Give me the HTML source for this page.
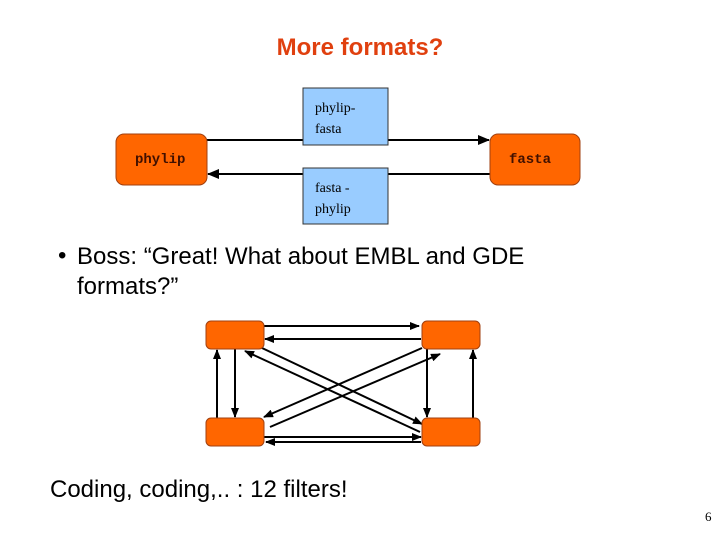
<!DOCTYPE html>
<html><head><meta charset="utf-8"><style>
body{margin:0;width:720px;height:540px;background:#fff;position:relative;overflow:hidden;font-family:"Liberation Sans",sans-serif}
.t{position:absolute;white-space:nowrap}
</style></head><body>
<div class="t" style="left:0;width:720px;text-align:center;top:34px;font-size:24px;font-weight:bold;color:#e0400f">More formats?</div>
<svg width="720" height="540" style="position:absolute;left:0;top:0">
<defs><marker id="a" markerWidth="10" markerHeight="8" refX="9" refY="4" orient="auto" markerUnits="userSpaceOnUse"><path d="M0,0L10,4L0,8z" fill="#000"/></marker>
<marker id="b" markerWidth="12" markerHeight="10" refX="11" refY="5" orient="auto" markerUnits="userSpaceOnUse"><path d="M0,0L12,5L0,10z" fill="#000"/></marker></defs>
<g stroke="#000" stroke-width="2" fill="none">
<line x1="207" y1="140" x2="489" y2="140" marker-end="url(#b)"/>
<line x1="490" y1="174" x2="208" y2="174" marker-end="url(#b)"/>
</g>
<rect x="116" y="134" width="91" height="51" rx="8" fill="#ff6600" stroke="#a04010"/>
<rect x="490" y="134" width="90" height="51" rx="8" fill="#ff6600" stroke="#a04010"/>
<rect x="303" y="88" width="85" height="57" fill="#99ccff" stroke="#333"/>
<rect x="303" y="168" width="85" height="56" fill="#99ccff" stroke="#333"/>
<g font-family="Liberation Mono,monospace" font-weight="bold" font-size="14" fill="#401000">
<text x="135" y="163">phylip</text><text x="509" y="163">fasta</text></g>
<g font-family="Liberation Serif,serif" font-size="14" fill="#000">
<text x="315" y="112">phylip-</text><text x="315" y="133">fasta</text>
<text x="315" y="192">fasta -</text><text x="315" y="213">phylip</text></g>
<g stroke="#000" stroke-width="2" fill="none">
<line x1="264" y1="326" x2="419" y2="326" marker-end="url(#a)"/>
<line x1="421" y1="339" x2="265" y2="339" marker-end="url(#a)"/>
<line x1="264" y1="437" x2="421" y2="437" marker-end="url(#a)"/>
<line x1="421" y1="442" x2="266" y2="442" marker-end="url(#a)"/>
<line x1="217" y1="418" x2="217" y2="350" marker-end="url(#a)"/>
<line x1="235" y1="349" x2="235" y2="417" marker-end="url(#a)"/>
<line x1="427" y1="349" x2="427" y2="417" marker-end="url(#a)"/>
<line x1="473" y1="418" x2="473" y2="350" marker-end="url(#a)"/>
<line x1="262" y1="348" x2="422" y2="424" marker-end="url(#a)"/>
<line x1="420" y1="432" x2="245" y2="351" marker-end="url(#a)"/>
<line x1="422" y1="348" x2="264" y2="417" marker-end="url(#a)"/>
<line x1="270" y1="427" x2="440" y2="354" marker-end="url(#a)"/>
</g>
<g fill="#ff6600" stroke="#a04010">
<rect x="206" y="321" width="58" height="28" rx="5"/><rect x="422" y="321" width="58" height="28" rx="5"/>
<rect x="206" y="418" width="58" height="28" rx="5"/><rect x="422" y="418" width="58" height="28" rx="5"/></g>
</svg>
<div class="t" style="left:58px;top:242px;font-size:24px">•</div>
<div class="t" style="left:77px;top:242px;font-size:24px;line-height:30px">Boss: “Great! What about EMBL and GDE<br>formats?”</div>
<div class="t" style="left:50px;top:476px;font-size:24px">Coding, coding,.. : 12 filters!</div>
<div class="t" style="left:705px;top:509px;font-size:13px;font-family:'Liberation Serif',serif">6</div>
</body></html>
